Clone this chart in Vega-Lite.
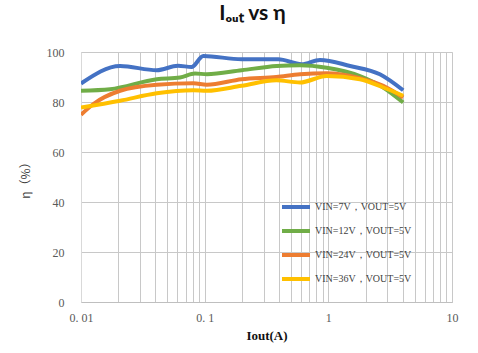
{
  "$schema": "https://vega.github.io/schema/vega-lite/v6.json",
  "autosize": {"type": "none"},
  "padding": {"left": 81, "top": 52, "right": 26, "bottom": 51},
  "width": 371,
  "height": 250,
  "background": "white",
  "title": {
    "text": "Iₒᵤₜ vs η",
    "font": "Lato",
    "fontSize": 21,
    "fontWeight": "bold",
    "color": "#111111",
    "anchor": "middle",
    "dx": -14,
    "offset": 22
  },
  "data": {
    "values": [
      {"s": "VIN=7V，VOUT=5V", "x": 0.01, "y": 87.4},
      {"s": "VIN=7V，VOUT=5V", "x": 0.0207, "y": 94.4},
      {"s": "VIN=7V，VOUT=5V", "x": 0.041, "y": 92.7},
      {"s": "VIN=7V，VOUT=5V", "x": 0.0608, "y": 94.5},
      {"s": "VIN=7V，VOUT=5V", "x": 0.0785, "y": 94.0},
      {"s": "VIN=7V，VOUT=5V", "x": 0.0975, "y": 98.4},
      {"s": "VIN=7V，VOUT=5V", "x": 0.199, "y": 97.1},
      {"s": "VIN=7V，VOUT=5V", "x": 0.394, "y": 97.1},
      {"s": "VIN=7V，VOUT=5V", "x": 0.608, "y": 95.1},
      {"s": "VIN=7V，VOUT=5V", "x": 0.855, "y": 96.8},
      {"s": "VIN=7V，VOUT=5V", "x": 1.5, "y": 94.4},
      {"s": "VIN=7V，VOUT=5V", "x": 2.61, "y": 91.1},
      {"s": "VIN=7V，VOUT=5V", "x": 4.03, "y": 84.7},
      {"s": "VIN=12V，VOUT=5V", "x": 0.01, "y": 84.5},
      {"s": "VIN=12V，VOUT=5V", "x": 0.0172, "y": 85.1},
      {"s": "VIN=12V，VOUT=5V", "x": 0.041, "y": 89.1},
      {"s": "VIN=12V，VOUT=5V", "x": 0.0632, "y": 89.8},
      {"s": "VIN=12V，VOUT=5V", "x": 0.0835, "y": 91.4},
      {"s": "VIN=12V，VOUT=5V", "x": 0.104, "y": 91.1},
      {"s": "VIN=12V，VOUT=5V", "x": 0.199, "y": 92.7},
      {"s": "VIN=12V，VOUT=5V", "x": 0.382, "y": 94.4},
      {"s": "VIN=12V，VOUT=5V", "x": 0.59, "y": 94.7},
      {"s": "VIN=12V，VOUT=5V", "x": 0.97, "y": 93.7},
      {"s": "VIN=12V，VOUT=5V", "x": 1.8, "y": 90.4},
      {"s": "VIN=12V，VOUT=5V", "x": 2.78, "y": 85.8},
      {"s": "VIN=12V，VOUT=5V", "x": 4.03, "y": 79.8},
      {"s": "VIN=24V，VOUT=5V", "x": 0.01, "y": 74.9},
      {"s": "VIN=24V，VOUT=5V", "x": 0.0126, "y": 79.2},
      {"s": "VIN=24V，VOUT=5V", "x": 0.0207, "y": 84.5},
      {"s": "VIN=24V，VOUT=5V", "x": 0.041, "y": 86.9},
      {"s": "VIN=24V，VOUT=5V", "x": 0.081, "y": 87.5},
      {"s": "VIN=24V，VOUT=5V", "x": 0.104, "y": 86.9},
      {"s": "VIN=24V，VOUT=5V", "x": 0.199, "y": 89.1},
      {"s": "VIN=24V，VOUT=5V", "x": 0.38, "y": 90.0},
      {"s": "VIN=24V，VOUT=5V", "x": 0.59, "y": 91.1},
      {"s": "VIN=24V，VOUT=5V", "x": 0.97, "y": 91.5},
      {"s": "VIN=24V，VOUT=5V", "x": 1.8, "y": 89.5},
      {"s": "VIN=24V，VOUT=5V", "x": 2.78, "y": 86.5},
      {"s": "VIN=24V，VOUT=5V", "x": 4.03, "y": 81.8},
      {"s": "VIN=36V，VOUT=5V", "x": 0.01, "y": 77.8},
      {"s": "VIN=36V，VOUT=5V", "x": 0.0207, "y": 80.5},
      {"s": "VIN=36V，VOUT=5V", "x": 0.041, "y": 83.5},
      {"s": "VIN=36V，VOUT=5V", "x": 0.081, "y": 84.7},
      {"s": "VIN=36V，VOUT=5V", "x": 0.104, "y": 84.5},
      {"s": "VIN=36V，VOUT=5V", "x": 0.199, "y": 86.5},
      {"s": "VIN=36V，VOUT=5V", "x": 0.38, "y": 88.7},
      {"s": "VIN=36V，VOUT=5V", "x": 0.59, "y": 87.8},
      {"s": "VIN=36V，VOUT=5V", "x": 0.97, "y": 90.4},
      {"s": "VIN=36V，VOUT=5V", "x": 1.8, "y": 89.1},
      {"s": "VIN=36V，VOUT=5V", "x": 2.78, "y": 85.8},
      {"s": "VIN=36V，VOUT=5V", "x": 4.03, "y": 82.5}
    ]
  },
  "mark": {"type": "line", "strokeWidth": 4, "interpolate": "monotone", "clip": true},
  "encoding": {
    "x": {
      "field": "x",
      "type": "quantitative",
      "scale": {"type": "log", "domain": [0.01, 10], "nice": false},
      "axis": {
        "title": "Iout(A)",
        "titleFont": "Liberation Serif",
        "titleFontSize": 13,
        "titleFontWeight": "bold",
        "titleColor": "#111111",
        "titlePadding": 6,
        "values": [0.01,0.02,0.03,0.04,0.05,0.06,0.07,0.08,0.09,0.1,0.2,0.3,0.4,0.5,0.6,0.7,0.8,0.9,1,2,3,4,5,6,7,8,9,10],
        "labelExpr": "datum.value == 0.01 ? '0. 01' : datum.value == 0.1 ? '0. 1' : datum.value == 1 ? '1' : datum.value == 10 ? '10' : ''",
        "labelFont": "Liberation Serif",
        "labelFontSize": 12,
        "labelColor": "#595959",
        "labelPadding": 10,
        "labelFlush": false,
        "labelOverlap": false,
        "ticks": false,
        "grid": true,
        "gridColor": "#c8c8c8",
        "gridWidth": 1,
        "domainColor": "#bfbfbf"
      }
    },
    "y": {
      "field": "y",
      "type": "quantitative",
      "scale": {"domain": [0, 100], "nice": false},
      "axis": {
        "title": "η（%）",
        "titleFont": "Noto Sans CJK SC",
        "titleFontSize": 12,
        "titleFontWeight": "normal",
        "titleColor": "#404040",
        "titlePadding": 14,
        "values": [0, 20, 40, 60, 80, 100],
        "labelFont": "Liberation Serif",
        "labelFontSize": 12,
        "labelColor": "#595959",
        "labelPadding": 17,
        "ticks": false,
        "grid": true,
        "gridColor": "#c8c8c8",
        "gridWidth": 1,
        "domainColor": "#d9d9d9"
      }
    },
    "color": {
      "field": "s",
      "type": "nominal",
      "scale": {
        "domain": ["VIN=7V，VOUT=5V", "VIN=12V，VOUT=5V", "VIN=24V，VOUT=5V", "VIN=36V，VOUT=5V"],
        "range": ["#4472C4", "#70AD47", "#ED7D31", "#FFC000"]
      },
      "legend": {
        "title": null,
        "orient": "none",
        "legendX": 199,
        "legendY": 139,
        "padding": 0,
        "symbolType": "stroke",
        "symbolSize": 784,
        "symbolStrokeWidth": 4,
        "rowPadding": 0,
        "labelOffset": 3,
        "labelFont": "Liberation Serif",
        "labelFontSize": 10,
        "labelColor": "#404040",
        "labelLimit": 200
      }
    }
  }
}
